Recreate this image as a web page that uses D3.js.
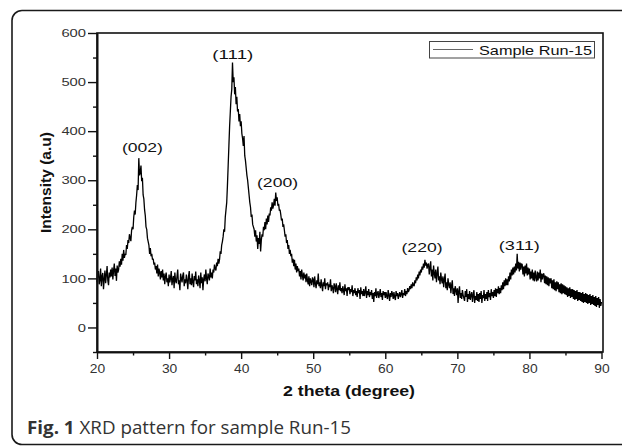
<!DOCTYPE html>
<html>
<head>
<meta charset="utf-8">
<script src="https://cdn.jsdelivr.net/npm/d3@7"></script>
<style>
  html, body { margin: 0; padding: 0; background: #fff; }
  svg { display: block; }
</style>
</head>
<body>
<svg id="chart" width="622" height="446"></svg>
<script>
// ---- data, 2θ from 20 to 90 in 0.1° steps ----
const twoThetaStart = 20;
const twoThetaStep = 0.1;
const intensity = [
  92, 108, 115, 88, 97, 120, 84, 104, 111, 78,
  98, 116, 90, 107, 125, 96, 86, 112, 102, 118,
  104, 122, 98, 116, 130, 105, 120, 95, 126, 112,
  118, 135, 124, 140, 128, 150, 136, 158, 142, 150,
  148, 168, 160, 178, 172, 190, 182, 176, 198, 205,
  200, 225, 238, 230, 255, 270, 290, 280, 345, 310,
  315, 330, 298, 305, 270, 262, 240, 228, 205, 200,
  182, 175, 168, 150, 162, 145, 150, 138, 140, 128,
  132, 118, 125, 110, 128, 104, 120, 112, 98, 115,
  102, 118, 96, 110, 88, 104, 112, 92, 100, 84,
  108, 92, 100, 115, 86, 98, 105, 80, 112, 95,
  90, 104, 118, 88, 96, 76, 110, 100, 92, 106,
  112, 84, 98, 90, 108, 96, 78, 104, 115, 88,
  100, 86, 110, 92, 82, 105, 96, 114, 88, 98,
  84, 106, 95, 80, 112, 90, 102, 76, 98, 108,
  94, 118, 100, 88, 110, 104, 96, 120, 102, 112,
  100, 118, 112, 128, 120, 116, 132, 125, 140, 130,
  138, 155, 150, 168, 175, 185, 200, 195, 225, 240,
  255, 290, 330, 370, 410, 440, 470, 485, 540, 500,
  510, 475, 490, 455, 470, 440, 445, 420, 435, 410,
  420, 395, 385, 370, 390, 350, 340, 325, 310, 300,
  285, 270, 255, 245, 225, 230, 210, 205, 200, 185,
  198, 175, 188, 160, 182, 170, 195, 155, 178, 190,
  185, 205, 198, 215, 200, 222, 210, 228, 215, 232,
  228, 245, 238, 255, 242, 250, 262, 248, 275, 258,
  265, 248, 252, 238, 240, 230, 218, 222, 205, 210,
  198, 185, 190, 172, 178, 160, 168, 150, 158, 145,
  150, 132, 140, 125, 138, 118, 130, 112, 125, 115,
  120, 104, 115, 98, 118, 106, 96, 112, 100, 108,
  92, 110, 96, 88, 104, 84, 100, 94, 86, 102,
  98, 82, 104, 90, 80, 96, 88, 110, 84, 92,
  80, 98, 86, 74, 92, 84, 100, 78, 90, 86,
  92, 76, 88, 82, 98, 74, 86, 80, 70, 90,
  84, 72, 90, 78, 68, 86, 76, 92, 74, 80,
  70, 84, 76, 66, 88, 74, 80, 64, 82, 76,
  82, 68, 78, 72, 86, 64, 76, 70, 80, 66,
  74, 62, 80, 70, 76, 58, 82, 68, 74, 64,
  78, 64, 72, 84, 60, 74, 66, 78, 62, 72,
  66, 76, 58, 70, 52, 72, 64, 80, 60, 70,
  74, 60, 68, 78, 62, 70, 56, 74, 66, 72,
  60, 72, 64, 58, 76, 66, 54, 70, 62, 74,
  68, 58, 72, 62, 56, 74, 64, 70, 58, 66,
  72, 62, 68, 76, 60, 70, 66, 78, 64, 74,
  68, 80, 72, 76, 84, 78, 88, 80, 92, 86,
  84, 96, 90, 102, 96, 108, 100, 114, 106, 118,
  112, 124, 118, 130, 122, 138, 126, 132, 120, 128,
  130, 108, 122, 135, 104, 118, 96, 126, 110, 100,
  118, 92, 110, 124, 96, 104, 88, 112, 98, 90,
  104, 82, 98, 110, 80, 92, 76, 100, 88, 80,
  92, 70, 86, 96, 68, 80, 64, 84, 76, 66,
  80, 50, 74, 84, 60, 70, 58, 76, 66, 60,
  54, 74, 62, 78, 52, 68, 58, 74, 56, 66,
  72, 52, 66, 76, 50, 64, 56, 72, 54, 68,
  52, 70, 58, 74, 50, 66, 60, 76, 54, 68,
  58, 72, 54, 76, 62, 70, 56, 78, 64, 72,
  60, 76, 64, 80, 62, 78, 70, 84, 68, 80,
  70, 86, 76, 92, 78, 96, 84, 100, 86, 98,
  86, 104, 94, 112, 98, 118, 106, 122, 108, 124,
  112, 130, 116, 150, 120, 134, 114, 132, 118, 130,
  128, 108, 124, 104, 126, 110, 130, 106, 122, 108,
  120, 98, 114, 100, 118, 96, 112, 94, 116, 102,
  94, 114, 96, 112, 100, 118, 92, 110, 98, 108,
  110, 90, 106, 88, 104, 86, 102, 84, 100, 90,
  100, 80, 96, 78, 98, 76, 92, 74, 94, 78,
  92, 72, 88, 70, 90, 68, 88, 70, 86, 68,
  84, 66, 82, 62, 80, 64, 82, 60, 78, 62,
  78, 58, 76, 56, 74, 58, 76, 54, 72, 56,
  72, 54, 70, 52, 72, 50, 68, 52, 70, 50,
  68, 48, 66, 50, 68, 46, 64, 48, 66, 46,
  62, 44, 64, 42, 60, 46, 62, 40, 58, 44,
  52
];
const peakLabels = ["(002)", "(111)", "(200)", "(220)", "(311)"];
const peakLabelTheta = [26.3, 38.85, 45.05, 65.1, 78.6];
const peakLabelIntensity = [358, 548, 287, 153, 157];
const xTicks = [20, 30, 40, 50, 60, 70, 80, 90];
const xMinorTicks = [25, 35, 45, 55, 65, 75, 85];
const yTicks = [0, 100, 200, 300, 400, 500, 600];
const yMinorTicks = [-50, 50, 150, 250, 350, 450, 550];
const seriesName = "Sample Run-15";
const xTitle = "2 theta (degree)";
const yTitle = "Intensity (a.u)";
const captionBold = "Fig. 1";
const captionText = " XRD pattern for sample Run-15";

// ---- layout ----
const svg = d3.select("#chart");
const m = { left: 97, right: 603, top: 33, bottom: 352 };

const x = d3.scaleLinear().domain([20, 90]).range([m.left, m.right - 1.5]);
const y = d3.scaleLinear().domain([-50, 600]).range([m.bottom, m.top]);

// card
svg.append("rect")
  .attr("x", 12).attr("y", 10.5)
  .attr("width", 640).attr("height", 434)
  .attr("rx", 10).attr("ry", 10)
  .attr("fill", "none").attr("stroke", "#1a1a1a").attr("stroke-width", 1.6);

// data line
const pts = intensity.map((v, i) => [twoThetaStart + i * twoThetaStep, v]);
const line = d3.line().x(d => x(d[0])).y(d => y(d[1]));
svg.append("path")
  .datum(pts)
  .attr("d", line)
  .attr("fill", "none")
  .attr("stroke", "#000")
  .attr("stroke-width", 1.3)
  .attr("stroke-linejoin", "bevel");

// frame
svg.append("rect")
  .attr("x", m.left).attr("y", m.top)
  .attr("width", m.right - m.left).attr("height", m.bottom - m.top)
  .attr("fill", "none").attr("stroke", "#111").attr("stroke-width", 1.6);

// axes
const font = "Liberation Sans, Arial, sans-serif";
const xAxis = d3.axisBottom(x).tickValues(xTicks).tickSize(7).tickPadding(5.5).tickSizeOuter(0);
const gx = svg.append("g").attr("transform", `translate(0,${m.bottom})`).call(xAxis);
const xMinor = d3.axisBottom(x).tickValues(xMinorTicks).tickSize(3.5).tickFormat("").tickSizeOuter(0);
const gxm = svg.append("g").attr("transform", `translate(0,${m.bottom})`).call(xMinor);

const yAxis = d3.axisLeft(y).tickValues(yTicks).tickSize(9).tickPadding(2).tickSizeOuter(0);
const gy = svg.append("g").attr("transform", `translate(${m.left},0)`).call(yAxis);
const yMinor = d3.axisLeft(y).tickValues(yMinorTicks).tickSize(4).tickFormat("").tickSizeOuter(0);
const gym = svg.append("g").attr("transform", `translate(${m.left},0)`).call(yMinor);

[gx, gxm, gy, gym].forEach(g => {
  g.select(".domain").attr("stroke", "#111").attr("stroke-width", 1.6);
  g.selectAll(".tick line").attr("stroke", "#111").attr("stroke-width", 1.4);
});
gx.selectAll(".tick text")
  .attr("font-family", font).attr("font-size", 12).attr("fill", "#333")
  .attr("textLength", function () { return this.textContent.length * 7.7; })
  .attr("lengthAdjust", "spacingAndGlyphs");
gy.selectAll(".tick text")
  .attr("font-family", font).attr("font-size", 11.5).attr("fill", "#333")
  .attr("textLength", function () { return this.textContent.length * 8.2; })
  .attr("lengthAdjust", "spacingAndGlyphs");

// axis titles
svg.append("text")
  .attr("x", (m.left + m.right) / 2 - 1).attr("y", 396)
  .attr("text-anchor", "middle")
  .attr("font-family", font).attr("font-weight", "bold").attr("font-size", 14)
  .attr("fill", "#111")
  .attr("textLength", 132).attr("lengthAdjust", "spacingAndGlyphs")
  .text(xTitle);

svg.append("text")
  .attr("transform", `translate(51,182.5) rotate(-90)`)
  .attr("text-anchor", "middle")
  .attr("font-family", font).attr("font-weight", "bold").attr("font-size", 14)
  .attr("fill", "#111")
  .attr("textLength", 101).attr("lengthAdjust", "spacingAndGlyphs")
  .text(yTitle);

// peak labels
svg.selectAll(".peak")
  .data(peakLabels)
  .enter().append("text")
  .attr("class", "peak")
  .attr("x", (d, i) => x(peakLabelTheta[i]))
  .attr("y", (d, i) => y(peakLabelIntensity[i]))
  .attr("text-anchor", "middle")
  .attr("font-family", font).attr("font-size", 13)
  .attr("fill", "#111")
  .attr("textLength", 41).attr("lengthAdjust", "spacingAndGlyphs")
  .text(d => d);

// legend
const lg = svg.append("g");
lg.append("rect")
  .attr("x", 429.5).attr("y", 41.5).attr("width", 165).attr("height", 16.5)
  .attr("fill", "#fff").attr("stroke", "#444").attr("stroke-width", 1);
lg.append("line")
  .attr("x1", 433).attr("x2", 473).attr("y1", 49.5).attr("y2", 49.5)
  .attr("stroke", "#666").attr("stroke-width", 1);
lg.append("text")
  .attr("x", 479).attr("y", 54.5)
  .attr("font-family", font).attr("font-size", 13.5)
  .attr("fill", "#111")
  .attr("textLength", 113).attr("lengthAdjust", "spacingAndGlyphs")
  .text(seriesName);

// caption
const cap = svg.append("text")
  .attr("x", 27).attr("y", 433.5)
  .attr("font-family", "Open Sans, sans-serif").attr("font-size", 18)
  .attr("fill", "#333")
  .attr("textLength", 324).attr("lengthAdjust", "spacingAndGlyphs");
cap.append("tspan").attr("font-weight", "bold").text(captionBold);
cap.append("tspan").text(captionText);
</script>
</body>
</html>
